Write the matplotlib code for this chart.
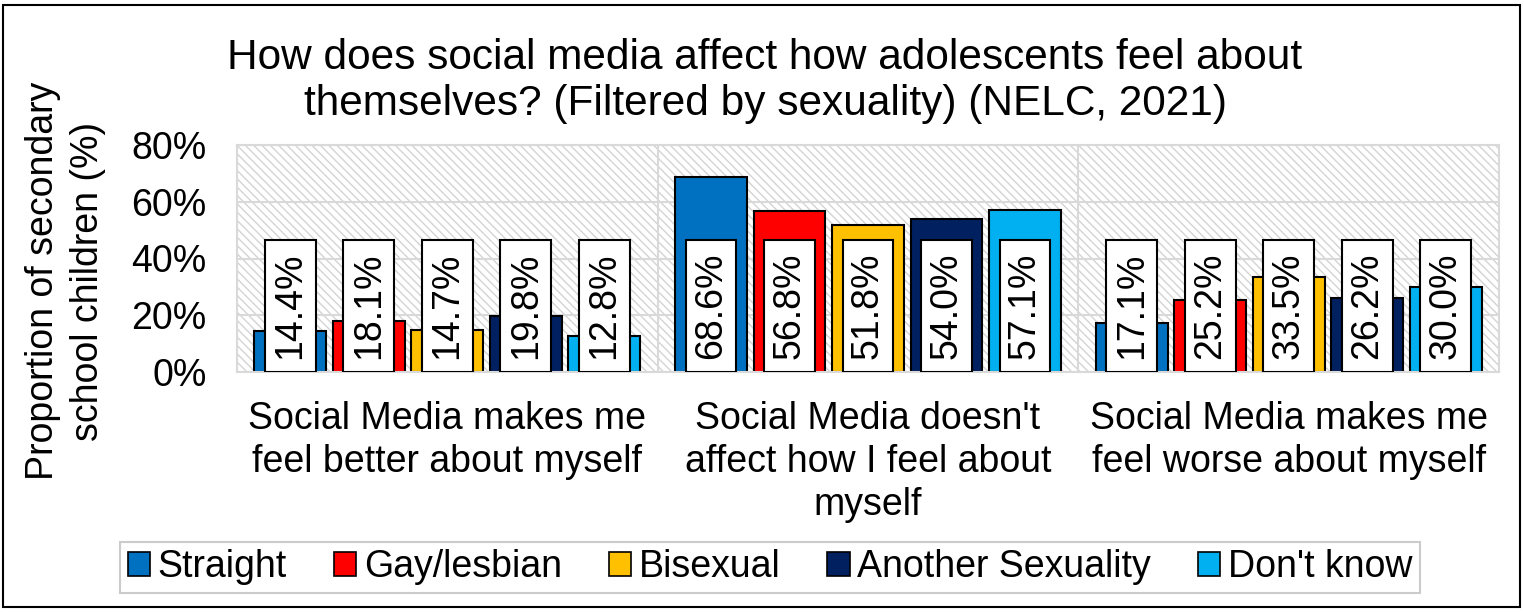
import matplotlib
matplotlib.use("Agg")
import matplotlib.pyplot as plt
import numpy as np
from matplotlib.patches import Patch, Rectangle

plt.rcParams['font.family'] = ['Liberation Sans', 'DejaVu Sans']
plt.rcParams['hatch.linewidth'] = 1.0
plt.rcParams['hatch.color'] = '#d4d4d4'

categories = ["Social Media makes me\nfeel better about myself",
              "Social Media doesn't\naffect how I feel about\nmyself",
              "Social Media makes me\nfeel worse about myself"]
series = ["Straight", "Gay/lesbian", "Bisexual", "Another Sexuality", "Don't know"]
straight = [14.4, 68.6, 17.1]
gay_lesbian = [18.1, 56.8, 25.2]
bisexual = [14.7, 51.8, 33.5]
another = [19.8, 54.0, 26.2]
dont_know = [12.8, 57.1, 30.0]
values = [straight, gay_lesbian, bisexual, another, dont_know]
colors = ["#0070C0", "#FF0000", "#FFC000", "#002060", "#00B0F0"]
yticks = [0, 20, 40, 60, 80]

fig = plt.figure(figsize=(15.24, 6.12), dpi=100)
ax = fig.add_axes([237/1524, 1-372/612, 1262/1524, 227/612])
ax.set_xlim(-0.5, 2.5)
ax.set_ylim(0, 80)

# hatched background
bg = Rectangle((0, 0), 1, 1, transform=ax.transAxes, facecolor='white',
               edgecolor='#d4d4d4', hatch='\\\\\\\\', linewidth=0, zorder=0)
ax.add_patch(bg)

for y in yticks:
    ax.axhline(y, color='#d9d9d9', lw=1.5, zorder=1)
for xv in [0.5, 1.5]:
    ax.axvline(xv, color='#d9d9d9', lw=1.5, zorder=1)

x = np.arange(len(categories))
pitch = 0.1866
bw = 0.171
box_w = 0.121
box_h = 46.5
for i, (vals, c) in enumerate(zip(values, colors)):
    xs = x + (i - 2) * pitch
    ax.bar(xs, vals, width=bw, color=c, edgecolor='black', linewidth=1.5, zorder=2)
    ax.bar(xs, [box_h]*len(xs), width=box_w, color='white', edgecolor='black',
           linewidth=1.5, zorder=3)
    for xi, v in zip(xs, vals):
        ax.text(xi, box_h/2, f"{v:.1f}%", rotation=90, ha='center', va='center',
                fontsize=27, zorder=4)

for s in ax.spines.values():
    s.set_color('#d9d9d9')
    s.set_linewidth(1.5)
ax.set_yticks(yticks)
ax.set_yticklabels([f"{t}%" for t in yticks], fontsize=27)
ax.set_xticks(x)
ax.set_xticklabels(categories, fontsize=27, linespacing=1.25)
ax.tick_params(axis='both', length=0)
ax.tick_params(axis='y', pad=22)
ax.tick_params(axis='x', pad=21)

ax.set_ylabel("Proportion of secondary\nschool children (%)", fontsize=27,
              linespacing=1.3)
ax.yaxis.set_label_coords(-0.104, 0.40)

fig.text(0.502, 1-38/612, "How does social media affect how adolescents feel about\nthemselves? (Filtered by sexuality) (NELC, 2021)",
         ha='center', va='top', fontsize=30.5, linespacing=1.18)

handles = [Patch(facecolor=c, edgecolor='black', linewidth=1.2) for c in colors]
leg = fig.legend(handles, series, loc='center', bbox_to_anchor=(770/1524, 1-567/612),
                 ncol=5, fontsize=27, frameon=True, fancybox=False,
                 handlelength=0.6, handleheight=0.6, handletextpad=0.2,
                 columnspacing=1.25, borderpad=0.2)
leg.get_frame().set_edgecolor('#bfbfbf')
leg.get_frame().set_linewidth(1.5)

fig.add_artist(Rectangle((3/1524, 5/612), 1517/1524, 602/612, transform=fig.transFigure,
                         fill=False, edgecolor='black', linewidth=1.5))

fig.savefig("out.png", dpi=100)
